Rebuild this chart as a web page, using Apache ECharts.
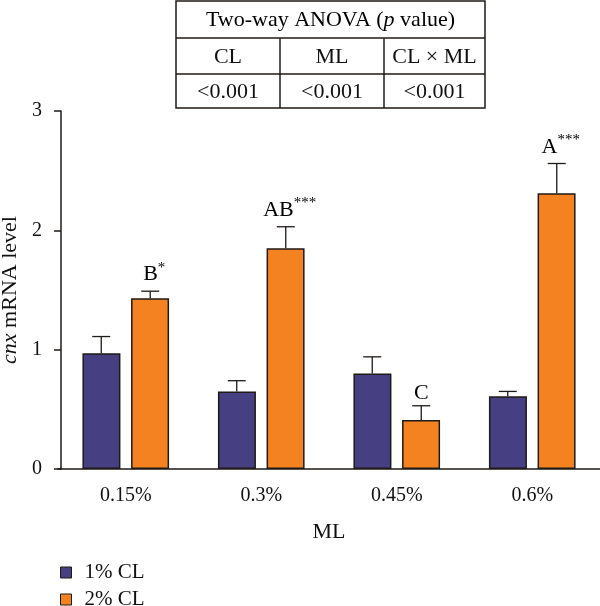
<!DOCTYPE html>
<html>
<head>
<meta charset="utf-8">
<script src="https://cdn.jsdelivr.net/npm/echarts@6/dist/echarts.min.js"></script>
<style>
  html, body { margin: 0; padding: 0; background: #fff; }
  #chart { width: 600px; height: 606px; }
</style>
</head>
<body>
<div id="chart"></div>
<script>
// data
const categories = ['0.15%', '0.3%', '0.45%', '0.6%']
const seriesNames = ['1% CL', '2% CL']
const cl1Mean = [0.97, 0.65, 0.80, 0.61]
const cl1Err = [0.14, 0.09, 0.14, 0.04]
const cl2Mean = [1.43, 1.85, 0.41, 2.31]
const cl2Err = [0.06, 0.18, 0.12, 0.25]
const cl2Letters = ['B', 'AB', 'C', 'A']
const cl2Stars = ['*', '***', '', '***']
const yTicks = [0, 1, 2, 3]

const anovaHeader = ['Two-way ANOVA (', 'p', ' value)']
const anovaCols = ['CL', 'ML', 'CL × ML']
const anovaVals = ['<0.001', '<0.001', '<0.001']

const FONT = '"Liberation Serif", "DejaVu Serif", serif'
const BLUE = '#463f82'
const ORANGE = '#f58220'
const EDGE = '#1e1a17'
const BAR_W = 38
const HALF = 24.5

const chart = echarts.init(document.getElementById('chart'))

function errorItem(means, errs, dir, withLabel) {
  return function (params, api) {
    const i = api.value(0)
    const top = api.coord([i, means[i] + errs[i]])
    const base = api.coord([i, means[i]])
    const x = base[0] + dir * HALF
    const children = [
      { type: 'line', shape: { x1: x, y1: base[1], x2: x, y2: top[1] }, style: { stroke: EDGE, lineWidth: 1.3 } },
      { type: 'line', shape: { x1: x - 9, y1: top[1], x2: x + 9, y2: top[1] }, style: { stroke: EDGE, lineWidth: 1.3 } }
    ]
    if (withLabel) {
      children.push({
        type: 'text',
        style: {
          x: x + (cl2Stars[i] ? 4 : 0), y: top[1] - 2,
          text: '{l|' + cl2Letters[i] + '}' + (cl2Stars[i] ? '{s|' + cl2Stars[i] + '}' : ''),
          align: 'center', verticalAlign: 'bottom',
          rich: {
            l: { fontFamily: FONT, fontSize: 22, color: '#111' },
            s: { fontFamily: FONT, fontSize: 15, color: '#111', verticalAlign: 'top', padding: [0, 0, 14, 0] }
          }
        }
      })
    }
    return { type: 'group', children: children }
  }
}

// ANOVA table at the top
const tL = 176, tR = 485, tT = 1, rows = [1, 38, 74, 108], cols = [176, 280, 384, 485]
const tableGraphic = [
  { type: 'rect', shape: { x: tL, y: tT, width: tR - tL, height: rows[3] - tT }, style: { fill: 'none', stroke: EDGE, lineWidth: 1.5 } },
  { type: 'line', shape: { x1: tL, y1: rows[1], x2: tR, y2: rows[1] }, style: { stroke: EDGE, lineWidth: 1.5 } },
  { type: 'line', shape: { x1: tL, y1: rows[2], x2: tR, y2: rows[2] }, style: { stroke: EDGE, lineWidth: 1.5 } },
  { type: 'line', shape: { x1: cols[1], y1: rows[1], x2: cols[1], y2: rows[3] }, style: { stroke: EDGE, lineWidth: 1.5 } },
  { type: 'line', shape: { x1: cols[2], y1: rows[1], x2: cols[2], y2: rows[3] }, style: { stroke: EDGE, lineWidth: 1.5 } },
  {
    type: 'text',
    style: {
      x: (tL + tR) / 2, y: (rows[0] + rows[1]) / 2 + 1,
      text: '{n|' + anovaHeader[0] + '}{i|' + anovaHeader[1] + '}{n|' + anovaHeader[2] + '}',
      align: 'center', verticalAlign: 'middle',
      rich: {
        n: { fontFamily: FONT, fontSize: 22, color: '#111' },
        i: { fontFamily: FONT, fontSize: 22, fontStyle: 'italic', color: '#111' }
      }
    }
  }
]
anovaCols.forEach((t, k) => {
  tableGraphic.push({ type: 'text', style: { x: (cols[k] + cols[k + 1]) / 2, y: (rows[1] + rows[2]) / 2 + 1, text: t, align: 'center', verticalAlign: 'middle', fontFamily: FONT, fontSize: 22, fill: '#111' } })
  tableGraphic.push({ type: 'text', style: { x: (cols[k] + cols[k + 1]) / 2, y: (rows[2] + rows[3]) / 2 + 1, text: anovaVals[k], align: 'center', verticalAlign: 'middle', fontFamily: FONT, fontSize: 22, fill: '#111' } })
})

function legendFor(name, top) {
  return {
    data: [name],
    left: 60,
    top: top,
    padding: 0,
    icon: 'rect',
    itemWidth: 11,
    itemHeight: 11,
    itemStyle: { borderColor: EDGE, borderWidth: 1 },
    textStyle: { fontFamily: FONT, fontSize: 21, color: '#111', padding: [0, 0, 0, 8] }
  }
}

const option = {
  animation: false,
  backgroundColor: '#fff',
  textStyle: { fontFamily: FONT },
  grid: { left: 58, right: 0, top: 111, bottom: 137, outerBoundsMode: 'none', containLabel: false },
  graphic: tableGraphic,
  legend: [legendFor(seriesNames[0], 562), legendFor(seriesNames[1], 589)],
  xAxis: {
    type: 'category',
    data: categories,
    name: 'ML',
    nameLocation: 'middle',
    nameGap: 52,
    nameTextStyle: { fontFamily: FONT, fontSize: 22, color: '#111' },
    axisLine: { lineStyle: { color: EDGE, width: 1.5 } },
    axisTick: { alignWithLabel: true, length: 6, lineStyle: { color: EDGE, width: 1.5 } },
    axisLabel: { fontFamily: FONT, fontSize: 20, color: '#111', margin: 17 }
  },
  yAxis: {
    type: 'value',
    min: 0,
    max: 3,
    interval: 1,
    offset: -3,
    name: '{i|cnx}{n| mRNA level}',
    nameLocation: 'middle',
    nameRotate: 90,
    nameGap: 39,
    nameTextStyle: {
      rich: {
        i: { fontFamily: FONT, fontSize: 22, fontStyle: 'italic', color: '#111' },
        n: { fontFamily: FONT, fontSize: 22, color: '#111' }
      }
    },
    axisLine: { show: true, lineStyle: { color: EDGE, width: 1.5 } },
    axisTick: { show: true, length: 7, lineStyle: { color: EDGE, width: 1.5 } },
    axisLabel: { fontFamily: FONT, fontSize: 20, color: '#111', margin: 19, formatter: v => yTicks.includes(v) ? String(v) : '' },
    splitLine: { show: false }
  },
  series: [
    {
      name: seriesNames[0], type: 'bar', data: cl1Mean, barWidth: BAR_W, barGap: '28%',
      itemStyle: { color: BLUE, borderColor: EDGE, borderWidth: 1.5 }
    },
    {
      name: seriesNames[1], type: 'bar', data: cl2Mean, barWidth: BAR_W, barGap: '28%',
      itemStyle: { color: ORANGE, borderColor: EDGE, borderWidth: 1.5 }
    },
    {
      type: 'custom', name: 'err1', data: cl1Mean.map((v, i) => [i, v + cl1Err[i]]),
      renderItem: errorItem(cl1Mean, cl1Err, -1, false), z: 1
    },
    {
      type: 'custom', name: 'err2', data: cl2Mean.map((v, i) => [i, v + cl2Err[i]]),
      renderItem: errorItem(cl2Mean, cl2Err, 1, true), z: 1
    }
  ]
}

chart.setOption(option)
</script>
</body>
</html>
